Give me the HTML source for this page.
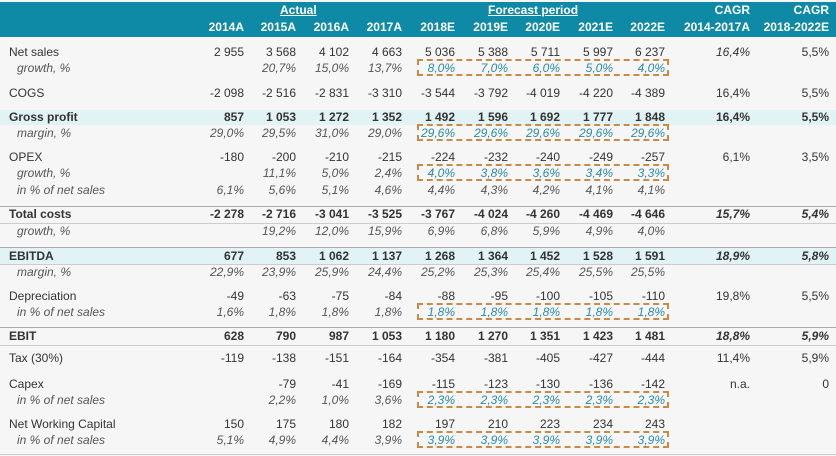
<!DOCTYPE html>
<html><head><meta charset="utf-8"><style>
*{margin:0;padding:0;box-sizing:border-box}
body{width:836px;height:456px;background:#f6f6f6;font-family:"Liberation Sans",Arial,sans-serif;font-size:12px;color:#333;position:relative;overflow:hidden}
.hd{position:absolute;left:0;top:2px;width:836px;height:35px;background:#0f8aa6}
.r{position:absolute;left:0;width:836px;height:16px;line-height:16px}
.r span{position:absolute;white-space:nowrap}
.l{left:9px}
.s .l{left:17px}
.s{font-style:italic;color:#555}
.b{font-weight:bold;color:#333}
.c1{right:592px}.c2{right:540px}.c3{right:487px}.c4{right:434px}.c5{right:381px}.c6{right:328px}.c7{right:276px}.c8{right:223px}.c9{right:171px}.c10{right:86px}.c11{right:7px}
.h{color:#fff;font-weight:bold}
.f{color:#2a8aa8}
.box{position:absolute;left:417px;width:252px;height:17px;border:2px dashed #c98a45}
.band{position:absolute;left:0;width:836px;background:#e2f3f5}
.ln{position:absolute;left:0;width:836px;height:1px;background:#aaa}
</style></head><body>
<div class="hd"></div>
<div class="r h" style="top:2px"><span style="left:280px;text-decoration:underline">Actual</span><span style="left:488px;text-decoration:underline">Forecast period</span><span class="c10">CAGR</span><span class="c11">CAGR</span></div>
<div class="r h" style="top:19px"><span class="c1">2014A</span><span class="c2">2015A</span><span class="c3">2016A</span><span class="c4">2017A</span><span class="c5">2018E</span><span class="c6">2019E</span><span class="c7">2020E</span><span class="c8">2021E</span><span class="c9">2022E</span><span class="c10">2014-2017A</span><span class="c11">2018-2022E</span></div>

<div class="band" style="top:110px;height:15px"></div>
<div class="band" style="top:247px;height:17px"></div>
<div class="ln" style="top:206px"></div>
<div class="ln" style="top:223px;background:#ccc"></div>
<div class="ln" style="top:247px"></div>
<div class="ln" style="top:264px;background:#ccc"></div>
<div class="ln" style="top:327px"></div>
<div class="ln" style="top:345px;background:#ccc"></div>
<div class="ln" style="top:454px;background:#ccc"></div>

<div class="r" style="top:44px"><span class="l">Net sales</span><span class="c1">2 955</span><span class="c2">3 568</span><span class="c3">4 102</span><span class="c4">4 663</span><span class="c5">5 036</span><span class="c6">5 388</span><span class="c7">5 711</span><span class="c8">5 997</span><span class="c9">6 237</span><span class="c10" style="font-style:italic">16,4%</span><span class="c11">5,5%</span></div>
<div class="r s" style="top:60px"><span class="l">growth, %</span><span class="c2">20,7%</span><span class="c3">15,0%</span><span class="c4">13,7%</span><span class="c5 f">8,0%</span><span class="c6 f">7,0%</span><span class="c7 f">6,0%</span><span class="c8 f">5,0%</span><span class="c9 f">4,0%</span></div>
<div class="r" style="top:85px"><span class="l">COGS</span><span class="c1">-2 098</span><span class="c2">-2 516</span><span class="c3">-2 831</span><span class="c4">-3 310</span><span class="c5">-3 544</span><span class="c6">-3 792</span><span class="c7">-4 019</span><span class="c8">-4 220</span><span class="c9">-4 389</span><span class="c10">16,4%</span><span class="c11">5,5%</span></div>
<div class="r b" style="top:109px"><span class="l">Gross profit</span><span class="c1">857</span><span class="c2">1 053</span><span class="c3">1 272</span><span class="c4">1 352</span><span class="c5">1 492</span><span class="c6">1 596</span><span class="c7">1 692</span><span class="c8">1 777</span><span class="c9">1 848</span><span class="c10">16,4%</span><span class="c11">5,5%</span></div>
<div class="r s" style="top:125px"><span class="l">margin, %</span><span class="c1">29,0%</span><span class="c2">29,5%</span><span class="c3">31,0%</span><span class="c4">29,0%</span><span class="c5 f">29,6%</span><span class="c6 f">29,6%</span><span class="c7 f">29,6%</span><span class="c8 f">29,6%</span><span class="c9 f">29,6%</span></div>
<div class="r" style="top:149px"><span class="l">OPEX</span><span class="c1">-180</span><span class="c2">-200</span><span class="c3">-210</span><span class="c4">-215</span><span class="c5">-224</span><span class="c6">-232</span><span class="c7">-240</span><span class="c8">-249</span><span class="c9">-257</span><span class="c10">6,1%</span><span class="c11">3,5%</span></div>
<div class="r s" style="top:165px"><span class="l">growth, %</span><span class="c2">11,1%</span><span class="c3">5,0%</span><span class="c4">2,4%</span><span class="c5 f">4,0%</span><span class="c6 f">3,8%</span><span class="c7 f">3,6%</span><span class="c8 f">3,4%</span><span class="c9 f">3,3%</span></div>
<div class="r s" style="top:182px"><span class="l">in % of net sales</span><span class="c1">6,1%</span><span class="c2">5,6%</span><span class="c3">5,1%</span><span class="c4">4,6%</span><span class="c5">4,4%</span><span class="c6">4,3%</span><span class="c7">4,2%</span><span class="c8">4,1%</span><span class="c9">4,1%</span></div>
<div class="r b" style="top:206px"><span class="l">Total costs</span><span class="c1">-2 278</span><span class="c2">-2 716</span><span class="c3">-3 041</span><span class="c4">-3 525</span><span class="c5">-3 767</span><span class="c6">-4 024</span><span class="c7">-4 260</span><span class="c8">-4 469</span><span class="c9">-4 646</span><span class="c10" style="font-style:italic">15,7%</span><span class="c11" style="font-style:italic">5,4%</span></div>
<div class="r s" style="top:223px"><span class="l">growth, %</span><span class="c2">19,2%</span><span class="c3">12,0%</span><span class="c4">15,9%</span><span class="c5">6,9%</span><span class="c6">6,8%</span><span class="c7">5,9%</span><span class="c8">4,9%</span><span class="c9">4,0%</span></div>
<div class="r b" style="top:248px"><span class="l">EBITDA</span><span class="c1">677</span><span class="c2">853</span><span class="c3">1 062</span><span class="c4">1 137</span><span class="c5">1 268</span><span class="c6">1 364</span><span class="c7">1 452</span><span class="c8">1 528</span><span class="c9">1 591</span><span class="c10" style="font-style:italic">18,9%</span><span class="c11" style="font-style:italic">5,8%</span></div>
<div class="r s" style="top:264px"><span class="l">margin, %</span><span class="c1">22,9%</span><span class="c2">23,9%</span><span class="c3">25,9%</span><span class="c4">24,4%</span><span class="c5">25,2%</span><span class="c6">25,3%</span><span class="c7">25,4%</span><span class="c8">25,5%</span><span class="c9">25,5%</span></div>
<div class="r" style="top:288px"><span class="l">Depreciation</span><span class="c1">-49</span><span class="c2">-63</span><span class="c3">-75</span><span class="c4">-84</span><span class="c5">-88</span><span class="c6">-95</span><span class="c7">-100</span><span class="c8">-105</span><span class="c9">-110</span><span class="c10">19,8%</span><span class="c11">5,5%</span></div>
<div class="r s" style="top:304px"><span class="l">in % of net sales</span><span class="c1">1,6%</span><span class="c2">1,8%</span><span class="c3">1,8%</span><span class="c4">1,8%</span><span class="c5 f">1,8%</span><span class="c6 f">1,8%</span><span class="c7 f">1,8%</span><span class="c8 f">1,8%</span><span class="c9 f">1,8%</span></div>
<div class="r b" style="top:328px"><span class="l">EBIT</span><span class="c1">628</span><span class="c2">790</span><span class="c3">987</span><span class="c4">1 053</span><span class="c5">1 180</span><span class="c6">1 270</span><span class="c7">1 351</span><span class="c8">1 423</span><span class="c9">1 481</span><span class="c10" style="font-style:italic">18,8%</span><span class="c11" style="font-style:italic">5,9%</span></div>
<div class="r" style="top:350px"><span class="l">Tax (30%)</span><span class="c1">-119</span><span class="c2">-138</span><span class="c3">-151</span><span class="c4">-164</span><span class="c5">-354</span><span class="c6">-381</span><span class="c7">-405</span><span class="c8">-427</span><span class="c9">-444</span><span class="c10">11,4%</span><span class="c11">5,9%</span></div>
<div class="r" style="top:376px"><span class="l">Capex</span><span class="c2">-79</span><span class="c3">-41</span><span class="c4">-169</span><span class="c5">-115</span><span class="c6">-123</span><span class="c7">-130</span><span class="c8">-136</span><span class="c9">-142</span><span class="c10">n.a.</span><span class="c11">0</span></div>
<div class="r s" style="top:392px"><span class="l">in % of net sales</span><span class="c2">2,2%</span><span class="c3">1,0%</span><span class="c4">3,6%</span><span class="c5 f">2,3%</span><span class="c6 f">2,3%</span><span class="c7 f">2,3%</span><span class="c8 f">2,3%</span><span class="c9 f">2,3%</span></div>
<div class="r" style="top:416px"><span class="l">Net Working Capital</span><span class="c1">150</span><span class="c2">175</span><span class="c3">180</span><span class="c4">182</span><span class="c5">197</span><span class="c6">210</span><span class="c7">223</span><span class="c8">234</span><span class="c9">243</span></div>
<div class="r s" style="top:432px"><span class="l">in % of net sales</span><span class="c1">5,1%</span><span class="c2">4,9%</span><span class="c3">4,4%</span><span class="c4">3,9%</span><span class="c5 f">3,9%</span><span class="c6 f">3,9%</span><span class="c7 f">3,9%</span><span class="c8 f">3,9%</span><span class="c9 f">3,9%</span></div>

<div class="box" style="top:59px"></div>
<div class="box" style="top:124px"></div>
<div class="box" style="top:164px"></div>
<div class="box" style="top:303px"></div>
<div class="box" style="top:391px"></div>
<div class="box" style="top:431px"></div>
</body></html>
